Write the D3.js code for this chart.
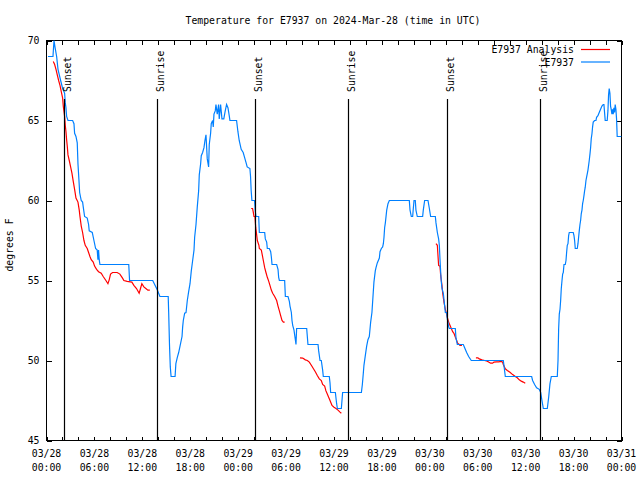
<!DOCTYPE html>
<html><head><meta charset="utf-8">
<script src="https://cdn.jsdelivr.net/npm/d3@7"></script>
<style>
body{margin:0;background:#fff}
svg{display:block}
text{font-family:"DejaVu Sans Mono","Liberation Mono",monospace;font-size:9.8px;fill:#000}
</style>
</head><body><svg id="c" width="640" height="480"></svg>
<script>
const titleText = "Temperature for E7937 on 2024-Mar-28 (time in UTC)";
const yLabelText = "degrees F";
const startUTC = Date.UTC(2024, 2, 28);
const spanHours = 72;
const yTicks = [45, 50, 55, 60, 65, 70];
const seriesNames = ["E7937 Analysis", "E7937"];
const seriesColors = ["#ff0000", "#0080ff"];
const sunHours = [2.23, 13.87, 26.15, 37.79, 50.19, 61.83];
const sunLabels = ["Sunset", "Sunrise", "Sunset", "Sunrise", "Sunset", "Sunrise"];

// [hours since 03/28 00:00 UTC, degrees F]; null = gap
const analysis = [
[0.85,68.69],[1.02,68.5],[1.19,68.2],[1.35,67.85],[1.52,67.5],[1.69,67.2],[1.85,66.8],[2.02,66.4],[2.1,65.9],[2.27,65.25],[2.35,64.7],[2.44,64.3],[2.52,63.8],[2.6,63.4],[2.69,62.85],[2.85,62.5],[3.02,62.1],[3.19,61.7],[3.35,61.2],[3.52,60.7],[3.69,60.15],[3.94,59.9],[4.1,59.4],[4.19,59],[4.35,58.4],[4.52,58],[4.69,57.5],[4.85,57.2],[5.1,57],[5.27,56.75],[5.44,56.5],[5.6,56.3],[5.85,56.15],[6.02,55.9],[6.27,55.7],[6.52,55.55],[6.85,55.45],[7.1,55.25],[7.44,55],[7.69,54.8],[7.85,55.04],[8.02,55.4],[8.27,55.5],[8.85,55.5],[9.19,55.4],[9.52,55.15],[9.69,55],[10.1,54.95],[10.69,54.9],[10.94,54.7],[11.27,54.5],[11.6,54.2],[11.77,54.5],[11.94,54.8],[12.19,54.6],[12.44,54.5],[12.69,54.4],[12.94,54.4],
null,
[25.63,59.5],[25.8,59.5],[25.88,59.3],[25.98,59],[26.1,59],[26.2,58.3],[26.28,58],[26.4,57.5],[26.6,57.2],[26.65,57],[26.9,56.9],[26.98,56.7],[27.15,56.25],[27.32,55.8],[27.48,55.5],[27.65,55.2],[27.82,54.96],[27.98,54.7],[28.15,54.4],[28.32,54.2],[28.57,54],[28.82,53.75],[28.99,53.4],[29.16,53.1],[29.32,52.8],[29.49,52.5],[29.66,52.4],[29.82,52.4],
null,
[31.74,50.17],[32.08,50.15],[32.41,50.04],[32.66,50],[32.91,49.9],[33.16,49.7],[33.41,49.5],[33.66,49.3],[33.91,49.06],[34.16,48.85],[34.41,48.75],[34.58,48.5],[34.83,48.4],[34.99,48.1],[35.16,47.9],[35.33,47.7],[35.5,47.5],[35.75,47.19],[36,47.08],[36.25,47],[36.5,46.9],[36.75,46.77],[36.92,46.7],
null,
[48.77,57.3],[48.94,57.2],[49.02,56.56],[49.1,55.94],[49.27,55.9],[49.36,55.3],[49.52,54.7],[49.61,54.2],[49.77,53.65],[49.94,53.2],[50.1,52.9],[50.19,52.7],[50.36,52.4],[50.52,52.2],[50.69,52],[50.86,51.8],[51.02,51.7],[51.19,51.46],[51.36,51.25],[51.52,51.04],[51.6,51.04],[51.77,50.94],[52.02,50.94],
null,
[53.77,50.17],[54.02,50.17],[54.19,50.1],[54.52,50.04],[54.86,50],[55.19,49.96],[55.36,49.9],[55.61,49.83],[55.86,49.83],[56.03,49.9],[56.36,49.92],[56.61,49.92],[56.95,49.94],[57.11,49.9],[57.2,49.75],[57.45,49.48],[57.7,49.38],[58.03,49.27],[58.37,49.12],[58.7,49],[58.95,48.92],[59.2,48.79],[59.45,48.71],[59.7,48.65],[59.95,48.58]
];

const observed = [
[0.19,69],[0.81,69],[0.94,70],[1.06,69.6],[1.27,69],[1.44,68.2],[1.77,67.5],[2.02,67],[2.27,66.7],[2.35,66.1],[2.44,65.8],[2.52,65.25],[2.69,65],[3.27,65],[3.44,64.8],[3.52,64.2],[3.69,64],[3.85,63.6],[3.94,62.3],[4.06,61.3],[4.15,60.5],[4.35,60],[4.52,59.9],[4.6,59.6],[4.77,59],[5.1,58.9],[5.27,58.5],[5.35,58.1],[5.73,58],[5.94,57.5],[6.15,57],[6.35,56.9],[6.44,56.3],[6.52,56.9],[6.6,56.3],[6.69,56],[10.3,56],[10.4,55],[13.3,55],[13.88,54.4],[14.2,54],[15.24,54],[15.3,53],[15.4,51],[15.5,49.6],[15.6,49],[16.1,49],[16.2,49.8],[16.38,50.2],[16.55,50.5],[16.72,50.9],[16.97,51.5],[17.05,52.1],[17.13,52.5],[17.3,52.96],[17.47,53],[17.63,53.75],[17.8,54.3],[17.97,54.8],[18.13,55.6],[18.3,56.25],[18.47,56.9],[18.55,57.7],[18.72,58.5],[18.88,59.6],[19.05,60.6],[19.13,61.6],[19.3,62.3],[19.38,62.8],[19.55,63],[19.72,63.3],[19.84,63.75],[19.97,64.1],[20.13,62.6],[20.3,62.1],[20.38,63.5],[20.55,64.2],[20.63,64.8],[20.8,65],[20.88,64.6],[20.97,65.4],[21.13,65.6],[21.22,66],[21.38,65.4],[21.55,66],[21.63,65.1],[21.8,66],[21.97,65.1],[22.2,65.1],[22.38,65.6],[22.55,66],[22.72,65.8],[22.88,65.3],[22.97,65],[23.8,65],[23.97,64.3],[24.13,63.75],[24.38,63.2],[24.63,63],[24.8,62.7],[24.97,62.4],[25.13,62.1],[25.47,62],[25.55,61.5],[25.63,60.6],[25.72,60],[26.05,60],[26.15,59.3],[26.23,59],[26.57,59],[26.65,58],[27.32,58],[27.4,57.6],[27.57,57.4],[27.65,57],[27.9,57],[28.07,56.8],[28.15,56.5],[28.24,56],[28.82,56],[28.99,55.7],[29.07,55.2],[29.16,55],[29.82,55],[29.91,54],[30.24,54],[30.41,53.7],[30.49,53.4],[30.66,53],[30.74,52.5],[30.83,52.2],[30.99,51.9],[31.16,51.3],[31.24,51],[31.32,52],[32.58,52],[32.74,51],[34,51],[34.08,50.6],[34.25,50],[34.41,50],[34.58,49.4],[34.66,49],[35.41,49],[35.5,48.6],[35.58,48],[36.17,48],[36.33,47.3],[36.42,47],[36.92,47],[37.08,48],[39.43,48],[39.55,48.5],[39.67,49.2],[39.75,49.7],[39.92,50.3],[40.09,50.9],[40.25,51.3],[40.42,51.5],[40.59,52.4],[40.75,53],[40.92,54.3],[41,54.9],[41.17,55.6],[41.26,55.8],[41.42,56.1],[41.68,56.4],[41.76,56.8],[41.93,57],[42.09,57.1],[42.18,57.3],[42.26,57.7],[42.34,58.3],[42.43,58.6],[42.6,59.4],[42.76,59.8],[42.93,60],[45.43,60],[45.52,59.4],[45.68,59],[45.85,59],[45.93,59.5],[46.02,60],[46.18,60],[46.26,59.4],[46.43,59],[47.1,59],[47.18,59.4],[47.35,60],[47.77,60],[47.94,59.5],[48.1,59],[48.69,59],[48.77,58.6],[48.94,58],[49.1,57.6],[49.19,57.2],[49.27,56.35],[49.36,55.5],[49.44,54.9],[49.52,54.5],[49.69,54.2],[49.86,53.4],[49.94,53],[50.1,53],[50.19,52.6],[50.36,52.1],[50.44,52],[51.19,52],[51.27,51.45],[51.44,51],[52.19,51],[52.36,50.8],[52.61,50.5],[52.86,50.25],[53.19,50],[57.2,50],[57.28,49.7],[57.45,49],[60.75,49],[60.87,48.75],[61.12,48.5],[61.37,48.3],[61.7,48.2],[61.88,48],[62.04,47.5],[62.21,47],[62.71,47],[62.88,47.7],[63.04,48.54],[63.21,49],[63.96,49],[64.05,50],[64.13,52],[64.21,52.9],[64.3,53.2],[64.38,53.75],[64.46,54.5],[64.55,55],[64.63,55.4],[64.71,55.5],[64.8,56],[64.96,56],[65.05,56.25],[65.13,56.77],[65.21,57.2],[65.3,57.3],[65.38,57.8],[65.46,58],[65.96,58],[66.05,57.8],[66.13,57.5],[66.21,57],[66.46,57],[66.55,57.3],[66.63,57.7],[66.71,58.1],[66.8,58.5],[66.88,58.75],[66.96,59.17],[67.05,59.4],[67.13,59.8],[67.21,60],[67.3,60.3],[67.38,60.6],[67.46,60.83],[67.55,61.25],[67.63,61.46],[67.71,61.67],[67.8,61.9],[67.88,62.2],[67.96,62.5],[68.05,62.9],[68.13,63.3],[68.21,63.85],[68.3,64.17],[68.38,64.6],[68.46,64.9],[68.63,65],[68.8,65],[68.88,65.2],[69.05,65.3],[69.21,65.5],[69.38,65.7],[69.55,65.9],[69.71,66],[69.8,66],[69.88,65.5],[69.96,65],[70.21,65],[70.3,65.6],[70.38,66.6],[70.46,67],[70.55,66.7],[70.63,65.9],[70.71,65.7],[70.8,65.4],[70.88,65.7],[70.96,65.4],[71.05,65.8],[71.13,65.5],[71.21,66],[71.3,65.7],[71.38,65.1],[71.46,64],[72,64]
];

const toDate = h => new Date(startUTC + h * 3600e3);
const svg = d3.select("#c");
const L = 46.5, R = 621.5, T = 40.5, B = 440.5;
const x = d3.scaleUtc().domain([toDate(0), toDate(spanHours)]).range([L, R]);
const y = d3.scaleLinear().domain([45, 70]).range([B, T]);

svg.append("defs").append("clipPath").attr("id", "clip")
  .append("rect").attr("x", L).attr("y", T - 1).attr("width", R - L).attr("height", B - T + 1);

// x ticks: every 2h (bottom & top, inward)
const tickDates = d3.utcHour.every(2).range(toDate(0), toDate(spanHours + 0.01));
const labelDates = tickDates.filter(d => d.getUTCHours() % 6 === 0);

svg.append("g").attr("transform", `translate(0,${B})`)
  .call(d3.axisBottom(x).tickValues(tickDates).tickSizeInner(-4).tickSizeOuter(0).tickFormat(""))
  .call(g => g.select(".domain").remove());
svg.append("g").attr("transform", `translate(0,${T})`)
  .call(d3.axisTop(x).tickValues(tickDates).tickSizeInner(-4).tickSizeOuter(0).tickFormat(""))
  .call(g => g.select(".domain").remove());

const fmtD = d3.utcFormat("%m/%d"), fmtT = d3.utcFormat("%H:%M");
const xl = svg.append("g").selectAll("text").data(labelDates).join("text")
  .attr("text-anchor", "middle");
xl.append("tspan").attr("x", d => x(d)).attr("y", 457).text(d => fmtD(d));
xl.append("tspan").attr("x", d => x(d)).attr("y", 471).text(d => fmtT(d));

// y ticks (left with labels, right mirror)
svg.append("g").attr("transform", `translate(${L},0)`)
  .call(d3.axisLeft(y).tickValues(yTicks).tickSizeInner(-5).tickSizeOuter(0).tickPadding(7).tickFormat(d3.format("d")))
  .call(g => g.select(".domain").remove());
svg.append("g").attr("transform", `translate(${R},0)`)
  .call(d3.axisRight(y).tickValues(yTicks).tickSizeInner(-5).tickSizeOuter(0).tickFormat(""))
  .call(g => g.select(".domain").remove());
svg.selectAll("g").attr("font-family", null).attr("font-size", null);
svg.selectAll(".tick line").attr("stroke", "#000").attr("shape-rendering", "crispEdges");

// border
svg.append("rect").attr("x", L).attr("y", T).attr("width", R - L).attr("height", B - T)
  .attr("fill", "none").attr("stroke", "#000").attr("stroke-width", 1).attr("shape-rendering", "crispEdges");

// series
const line = d3.line().defined(d => d !== null)
  .x(d => x(toDate(d[0]))).y(d => y(d[1]));
const plot = svg.append("g").attr("clip-path", "url(#clip)");
[analysis, observed].forEach((s, i) => {
  plot.append("path").datum(s).attr("d", line)
    .attr("fill", "none").attr("stroke", seriesColors[i]).attr("stroke-width", 1.2)
    .attr("stroke-linejoin", "miter");
});

// sunrise / sunset markers
const sun = svg.append("g");
sunHours.forEach((h, i) => {
  const sx = Math.round(x(toDate(h))) + 0.5;
  sun.append("line").attr("x1", sx).attr("x2", sx).attr("y1", 99).attr("y2", B)
    .attr("stroke", "#000").attr("stroke-width", 1.2);
  sun.append("text").attr("transform", `translate(${sx + 6},92) rotate(-90)`)
    .attr("text-anchor", "start").text(sunLabels[i]);
});

// title & axis label
svg.append("text").attr("x", 333).attr("y", 24).attr("text-anchor", "middle").text(titleText);
svg.append("text").attr("transform", "translate(13,245) rotate(-90)")
  .attr("text-anchor", "middle").text(yLabelText);

// legend
const leg = svg.append("g");
seriesNames.forEach((n, i) => {
  const ly = 49.5 + i * 12.5;
  leg.append("text").attr("x", 574).attr("y", ly + 3.8).attr("text-anchor", "end").text(n);
  leg.append("line").attr("x1", 581).attr("x2", 610).attr("y1", ly).attr("y2", ly)
    .attr("stroke", seriesColors[i]).attr("stroke-width", 1.2);
});
</script>
</body></html>
